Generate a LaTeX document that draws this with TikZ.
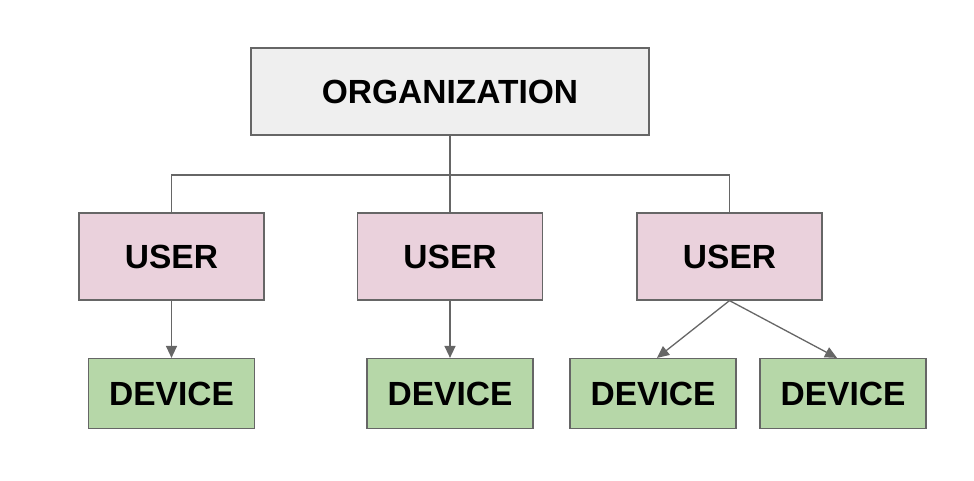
\documentclass[tikz,border=0pt]{standalone}
\usepackage{fontspec}
\setmainfont{Liberation Sans}
\usetikzlibrary{arrows.meta}
\definecolor{orgfill}{HTML}{EFEFEF}
\definecolor{userfill}{HTML}{EAD1DC}
\definecolor{devfill}{HTML}{B6D7A8}
\definecolor{edge}{HTML}{666666}
\definecolor{bord}{HTML}{666666}
\begin{document}
\begin{tikzpicture}[x=1pt,y=-1pt,
  box/.style={draw=bord, line width=1.2pt, inner sep=0pt, font=\fontsize{33.5}{38}\selectfont\bfseries},
  orgbox/.style={box, fill=orgfill, minimum width=398pt, minimum height=87pt},
  userbox/.style={box, fill=userfill, minimum width=185pt, minimum height=87pt},
  devbox/.style={box, fill=devfill, minimum width=166pt, minimum height=70pt},
  conn/.style={draw=edge, line width=1.3pt},
  arr/.style={conn, -{Triangle[length=12pt,width=11pt]}}]
\useasboundingbox (0,0) rectangle (974,480);
\node[orgbox] (org) at (450,91.5) {ORGANIZATION};
\node[userbox] (u1) at (171.5,256.5) {USER};
\node[userbox] (u2) at (450,256.5) {USER};
\node[userbox] (u3) at (729.5,256.5) {USER};
\node[devbox] (d1) at (171.5,393.5) {DEVICE};
\node[devbox] (d2) at (450,393.5) {DEVICE};
\node[devbox] (d3) at (653,393.5) {DEVICE};
\node[devbox] (d4) at (843,393.5) {DEVICE};
\coordinate (bus) at (450,175);
\draw[conn] (org.south) -- (bus);
\draw[conn] (u1.north) |- (bus) -| (u3.north);
\draw[conn] (bus) -- (u2.north);
\draw[arr] (u1.south) -- (d1.north);
\draw[arr] (u2.south) -- (d2.north);
\draw[arr] (u3.south) -- ([xshift=4pt]d3.north);
\draw[arr] (u3.south) -- ([xshift=-6pt]d4.north);
\end{tikzpicture}
\end{document}
